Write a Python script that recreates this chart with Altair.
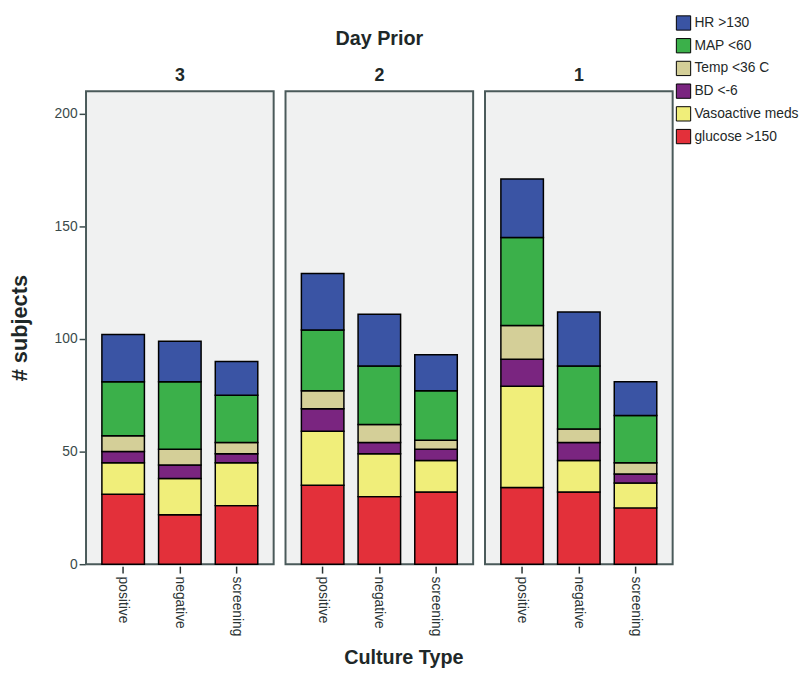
import altair as alt
import pandas as pd

days = ["3", "2", "1"]
cultures = ["positive", "negative", "screening"]
categories = ["HR >130", "MAP <60", "Temp <36 C", "BD <-6", "Vasoactive meds", "glucose >150"]
colors = ["#3a54a4", "#3bb04a", "#d4cf98", "#7a2580", "#f0ee7a", "#e3303a"]

# values in order: day3 (pos, neg, scr), day2 (pos, neg, scr), day1 (pos, neg, scr)
glucose = [31, 22, 26, 35, 30, 32, 34, 32, 25]
vaso = [14, 16, 19, 24, 19, 14, 45, 14, 11]
bd = [5, 6, 4, 10, 5, 5, 12, 8, 4]
temp = [7, 7, 5, 8, 8, 4, 15, 6, 5]
map_ = [24, 30, 21, 27, 26, 22, 39, 28, 21]
hr = [21, 18, 15, 25, 23, 16, 26, 24, 15]

series = {
    "glucose >150": glucose,
    "Vasoactive meds": vaso,
    "BD <-6": bd,
    "Temp <36 C": temp,
    "MAP <60": map_,
    "HR >130": hr,
}
stack_order = ["glucose >150", "Vasoactive meds", "BD <-6", "Temp <36 C", "MAP <60", "HR >130"]

rows = []
for cat in stack_order:
    vals = series[cat]
    i = 0
    for d in days:
        for c in cultures:
            rows.append({"day": d, "culture": c, "category": cat,
                         "value": vals[i], "ord": stack_order.index(cat)})
            i += 1
df = pd.DataFrame(rows)

FONT = "Liberation Sans"
DARK = "#1e2828"

base = alt.Chart(df).mark_bar(stroke="black", strokeWidth=1.5).encode(
    x=alt.X("culture:N", sort=cultures, title=None,
            scale=alt.Scale(paddingInner=0.25, paddingOuter=0.28),
            axis=alt.Axis(labelAngle=90, labelFontSize=14, labelColor="#2a3434",
                          labelFont=FONT, domain=False, ticks=True, tickSize=7,
                          tickColor="#2a3434", tickWidth=1.5, labelPadding=3)),
    y=alt.Y("value:Q", stack="zero", title="# subjects",
            scale=alt.Scale(domain=[0, 210], nice=False),
            axis=alt.Axis(values=[0, 50, 100, 150, 200], grid=False, domain=False,
                          tickSize=6, tickColor="#3a4a4a", tickWidth=1.5,
                          labelFontSize=14, labelColor="#3a4a4a", labelFont=FONT,
                          titleFontSize=22, titleFont=FONT, titleFontWeight="bold",
                          titleColor=DARK, titlePadding=23, labelPadding=2)),
    color=alt.Color("category:N", scale=alt.Scale(domain=categories, range=colors),
                    legend=alt.Legend(title=None, orient="none", legendX=597, legendY=-77,
                                      symbolType="square", symbolSize=210,
                                      symbolStrokeColor="black", symbolStrokeWidth=1,
                                      symbolOpacity=1,
                                      labelFontSize=14, labelFont=FONT, labelColor=DARK,
                                      rowPadding=3, labelOffset=3)),
    order=alt.Order("ord:Q"),
).properties(width=190, height=479)

chart = base.facet(
    column=alt.Column("day:N", sort=days,
                      header=alt.Header(title="Day Prior", titleFontSize=20, titleFont=FONT,
                                        titleFontWeight="bold", titleColor=DARK,
                                        titlePadding=9,
                                        labelFontSize=18, labelFont=FONT,
                                        labelFontWeight="bold", labelColor=DARK,
                                        labelPadding=5)),
    spacing=10,
).properties(
    title=alt.TitleParams("Culture Type", orient="bottom", fontSize=20, font=FONT,
                          fontWeight="bold", color=DARK, anchor="middle", offset=12),
    padding={"left": 0, "top": 3, "right": 5, "bottom": 2},
    background="white",
).configure_view(
    fill="#f0f1f1", stroke="#4a5a5a", strokeWidth=2
)

chart.save("out.html", embed_options={"renderer": "svg", "actions": False})
